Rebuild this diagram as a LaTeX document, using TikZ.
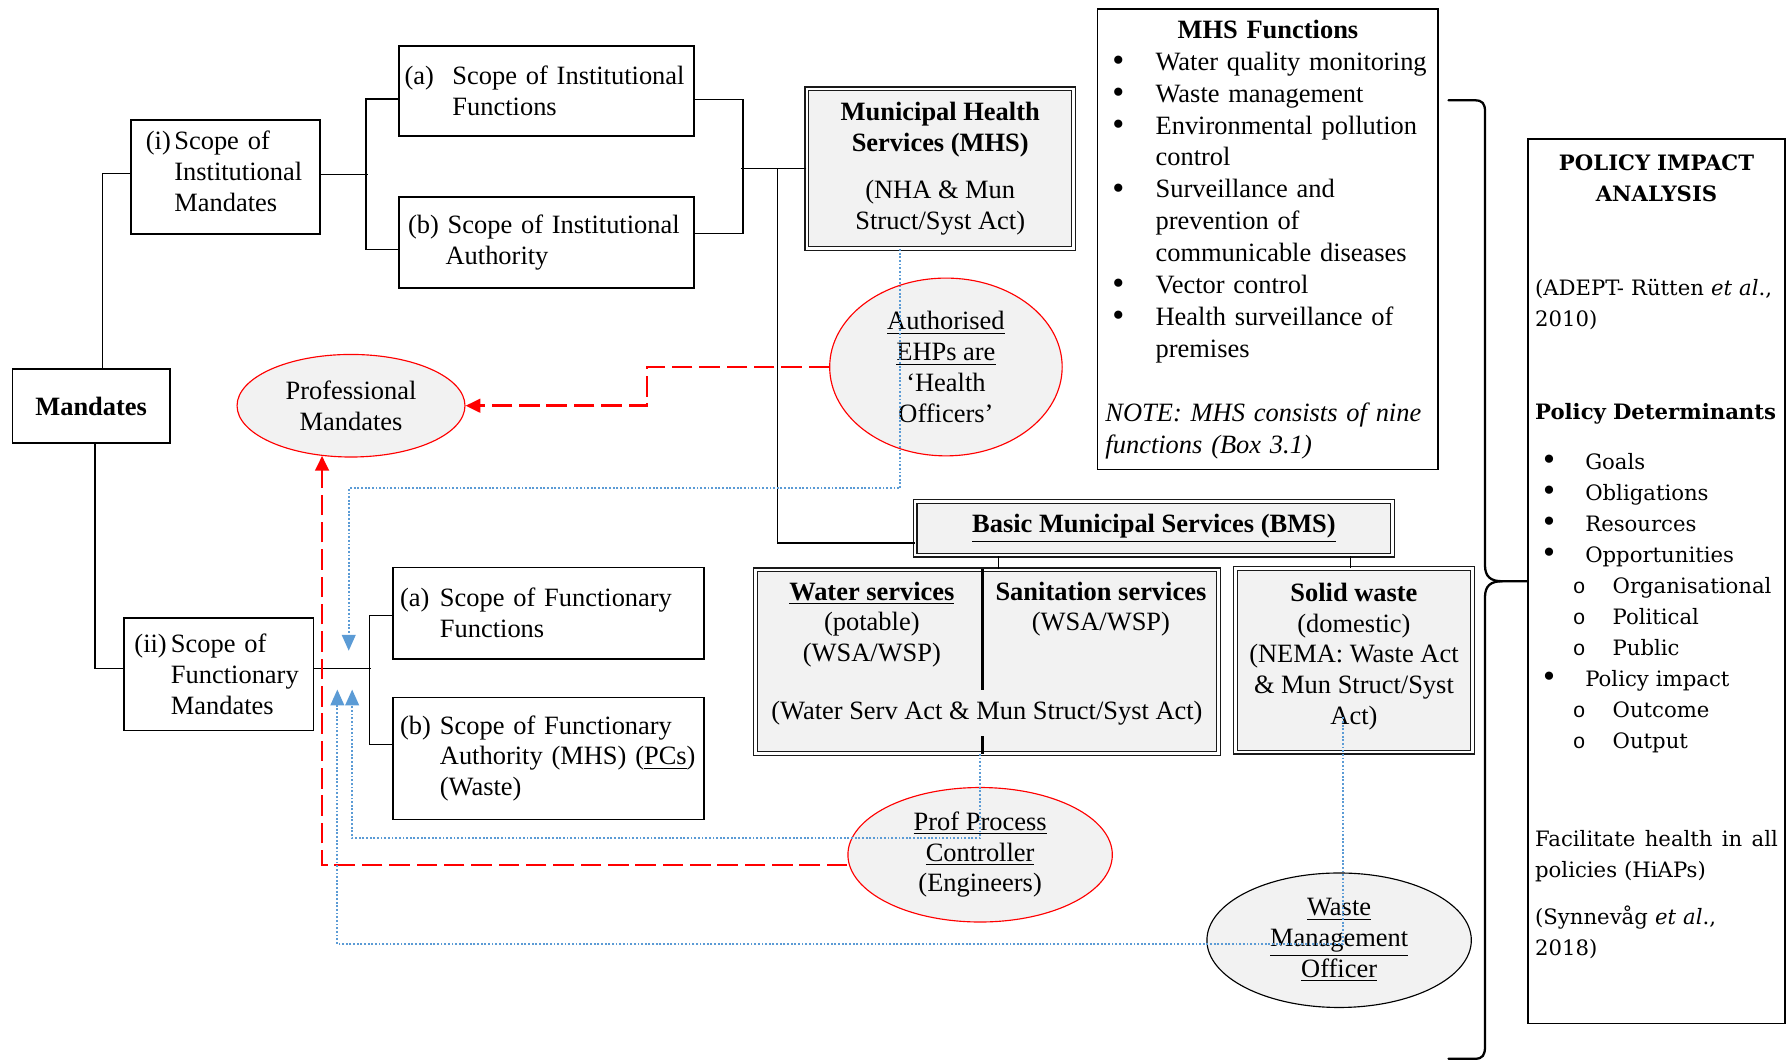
\documentclass[tikz,border=0pt]{standalone}
\usepackage{fontspec}
\setmainfont{Liberation Serif}
\newfontfamily\pfont{DejaVu Serif}
\newfontfamily\monof{Liberation Mono}
\usetikzlibrary{shapes.geometric,arrows.meta,calc}
\definecolor{boxgray}{HTML}{F2F2F2}
\definecolor{linkblue}{HTML}{5B9BD5}
\definecolor{linkred}{HTML}{FF0000}
\hyphenpenalty=10000
\exhyphenpenalty=10000
% list helpers for the two text panels
\newcommand\bigdot{\raisebox{-0.6pt}{\fontsize{15pt}{15pt}\selectfont\rmfamily •}}
\newcommand\mbul[1]{\hspace*{3pt}\makebox[19pt][l]{\bigdot}#1}
\newcommand\mind[1]{\hspace*{22pt}#1}
\newcommand\pbul[1]{\hspace*{3.5pt}\makebox[18.5pt][l]{\bigdot}#1}
\newcommand\psub[1]{\hspace*{16.5pt}\makebox[17.5pt][l]{\monof o}#1}
\begin{document}
\begin{tikzpicture}[x=0.5pt,y=-0.5pt,
  every node/.style={font=\fontsize{11.6pt}{13.5pt}\selectfont, inner ysep=0pt},
  box/.style={draw, line width=0.8pt, align=left},
  dbox/.style={draw=black!90, line width=0.55pt, double=white, double distance=1.1pt, fill=boxgray, align=center},
  ell/.style={ellipse, draw=linkred, line width=0.5pt, fill=boxgray, inner sep=0pt, align=center},
  conn/.style={line width=0.6pt},
  reddash/.style={draw=linkred, line width=1.1pt, dash pattern=on 9pt off 3pt, -{Triangle[length=6.5pt,width=6pt]}},
  bluedot/.style={draw=linkblue, line width=0.9pt, dash pattern=on 0.8pt off 0.8pt, -{Triangle[length=7pt,width=6pt]}},
  brace/.style={line width=1pt, line cap=round, line join=round}]
\useasboundingbox (0,0) rectangle (1568,932);

% ---------- institutional branch ----------
\node[box, minimum width=69pt, minimum height=32.5pt, align=center] (mand) at (80,356.5) {\textbf{Mandates}};
\node[box, text width=70pt, inner xsep=6.5pt, minimum height=50pt] (sim) at (198,155)
  {\mbox{\makebox[12.5pt][l]{(i)}Scope of}\\\mbox{\hspace*{12.5pt}Institutional}\\\mbox{\hspace*{12.5pt}Mandates}\rule[-5pt]{0pt}{1pt}};
\node[box, text width=124.5pt, inner xsep=2.5pt, minimum height=39.5pt] (sa) at (479.5,79.5)
  {\mbox{\makebox[21pt][l]{(a)}Scope of Institutional}\\\mbox{\hspace*{21pt}Functions}};
\node[box, text width=121.5pt, inner xsep=4pt, minimum height=40pt] (sb) at (479.5,213)
  {\mbox{(b) Scope of Institutional}\\\mbox{\hspace*{16.5pt}Authority}};
\node[dbox, minimum width=117pt, minimum height=70pt] (mhs) at (825,148)
  {\textbf{Municipal Health}\\\textbf{Services (MHS)}\\[7.5pt](NHA \& Mun\\Struct/Syst Act)};

% ---------- functionary branch ----------
\node[box, text width=74pt, inner xsep=4.5pt, minimum height=49.5pt] (sim2) at (192,591.5)
  {\mbox{\makebox[16pt][l]{(ii)}Scope of}\\\mbox{\hspace*{16pt}Functionary}\\\mbox{\hspace*{16pt}Mandates}};
\node[box, text width=130.5pt, inner xsep=3pt, minimum height=40pt] (fa) at (481.5,538)
  {\mbox{\makebox[17.5pt][l]{(a)}Scope of Functionary}\\\mbox{\hspace*{17.5pt}Functions}};
\node[box, text width=130.5pt, inner xsep=3pt, minimum height=53.5pt] (fb) at (481.5,665.5)
  {\mbox{\makebox[17.5pt][l]{(b)}Scope of Functionary}\\\mbox{\hspace*{17.5pt}Authority (MHS) (\underline{PCs})}\\\mbox{\hspace*{17.5pt}(Waste)}};

% ---------- basic municipal services ----------
\node[dbox, minimum width=209.5pt, minimum height=23.5pt] (bms) at (1012.5,463.5)
  {\textbf{\underline{Basic Municipal Services (BMS)}}};
\node[dbox, minimum width=203pt, minimum height=80.5pt] (wsan) at (866,580.5) {};
\node[align=center] (wst) at (765,548) {\textbf{\underline{Water services}}\\(potable)\\(WSA/WSP)};
\node[align=center] (sst) at (966,534.5) {\textbf{Sanitation services}\\(WSA/WSP)};
\node (wact) at (866,626) {(Water Serv Act \& Mun Struct/Syst Act)};
\node[dbox, minimum width=104pt, minimum height=80.5pt] (solid) at (1188,579.5)
  {\textbf{Solid waste}\\(domestic)\\(NEMA: Waste Act\\\& Mun Struct/Syst\\Act)\rule[-6pt]{0pt}{1pt}};

% ---------- role ellipses ----------
\node[ell, minimum width=100pt, minimum height=45pt] (prof) at (308,356) {Professional\\Mandates};
\node[ell, minimum width=102pt, minimum height=78pt] (ehp) at (830,322)
  {\underline{Authorised}\\\underline{EHPs are}\\‘Health\\Officers’};
\node[ell, minimum width=116pt, minimum height=59pt] (ppc) at (860,750)
  {\underline{Prof Process}\\\underline{Controller}\\(Engineers)};
\node[ell, draw=black, minimum width=116pt, minimum height=59pt] (wmo) at (1175,825)
  {\underline{Waste}\\\underline{Management}\\\underline{Officer}};

% ---------- MHS functions panel ----------
\node[box, text width=142.5pt, inner xsep=3.5pt, minimum height=202pt,
      font=\fontsize{11.6pt}{14pt}\selectfont] (fun) at (1112.5,210)
  {\makebox[142.5pt]{\textbf{MHS Functions}}\\
   \mbul{Water quality monitoring}\\
   \mbul{Waste management}\\
   \mbul{Environmental pollution}\\
   \mind{control}\\
   \mbul{Surveillance and}\\
   \mind{prevention of}\\
   \mind{communicable diseases}\\
   \mbul{Vector control}\\
   \mbul{Health surveillance of}\\
   \mind{premises}\\[14pt]
   \mbox{\textit{NOTE: MHS consists of nine}}\\
   \textit{functions (Box 3.1)}};

% ---------- policy impact panel ----------
\node[box, text width=106.5pt, inner xsep=3pt, minimum height=388pt,
      font=\pfont\fontsize{9.3pt}{13.6pt}\selectfont] (pia) at (1453.5,510)
  {\makebox[106.5pt]{\textbf{POLICY IMPACT}}\\
   \makebox[106.5pt]{\textbf{ANALYSIS}}\\[27.5pt]
   \mbox{(ADEPT- Rütten \textit{et al}.,}\\
   2010)\\[27.5pt]
   \mbox{\textbf{Policy Determinants}}\\[8pt]
   \pbul{Goals}\\
   \pbul{Obligations}\\
   \pbul{Resources}\\
   \pbul{Opportunities}\\
   \psub{Organisational}\\
   \psub{Political}\\
   \psub{Public}\\
   \pbul{Policy impact}\\
   \psub{Outcome}\\
   \psub{Output}\\[29.5pt]
   \makebox[106.5pt][s]{Facilitate\hfill health\hfill in\hfill all}\\
   policies (HiAPs)\\[7pt]
   \mbox{(Synnevåg \textit{et al}.,}\\
   2018)\rule[-23pt]{0pt}{1pt}};

% ---------- tree connectors ----------
\draw[conn] ($(mand.north west)+(80,0)$) |- ($(sim.west)+(0,-3)$);
\draw[conn] ($(sim.east)+(0,-2)$) -- ++(41,0);
\draw[conn] ($(sa.west)+(0,7.5)$) -- ++(-28,0) |- ($(sb.west)+(0,6)$);
\draw[conn] ($(sa.east)+(0,8)$) -- ++(42,0) |- ($(sb.east)+(0,-8)$);
\draw[conn] (mhs.west) -- ++(-57,0);
\draw[conn] ($(mhs.west)+(-25,0)$) |- ($(bms.west)+(0,13)$);
\draw[conn] ($(mand.south west)+(73,0)$) |- ($(sim2.west)+(0,-5)$);
\draw[conn] ($(sim2.east)+(0,-5)$) -- ++(50,0);
\draw[conn] ($(fa.west)+(0,2)$) -- ++(-20,0) |- ($(fb.west)+(0,-12)$);
\coordinate (c1) at ($(wsan.north)+(10,0)$);
\coordinate (c2) at ($(solid.north)+(-3,0)$);
\draw[conn] (c1) -- (c1 |- bms.south);
\draw[conn] (c2) -- (c2 |- bms.south);
% column divider of the water / sanitation box
\draw[line width=1pt] ($(wsan.north)+(-4,0)$) -- ++(0,106);
\draw[line width=1pt] ($(wsan.south)+(-4,0)$) -- ++(0,-16);

% ---------- brace towards the policy panel ----------
\draw[brace] (1271,88) -- (1294,88) .. controls (1301,88) and (1303,91) .. (1303,98)
  -- (1303,496) .. controls (1303,506) and (1308,510) .. (1318,510) -- (pia.west);
\draw[brace] (1318,510) .. controls (1308,510) and (1303,514) .. (1303,524)
  -- (1303,918) .. controls (1303,926) and (1301,929) .. (1294,929) -- (1271,929);

% ---------- professional mandate links ----------
\draw[reddash] (ehp.west) -- ++(-160,0) |- (prof.east);
\draw[reddash] ($(ppc.west)+(0,9)$) -| (prof.240);

% ---------- functional links ----------
\coordinate (dnA) at (306,571);
\coordinate (upA) at (296,605);
\coordinate (upB) at (309,605);
\draw[bluedot] ($(mhs.south)+(-35,0)$) -- ++(0,210) -| (dnA);
\draw[bluedot] ($(wsan.south)+(-6,0)$) -- ++(0,74) -| (upB);
\draw[bluedot] ($(solid.south)+(-10,-31)$) -- ++(0,199) -| (upA);
\end{tikzpicture}
\end{document}
